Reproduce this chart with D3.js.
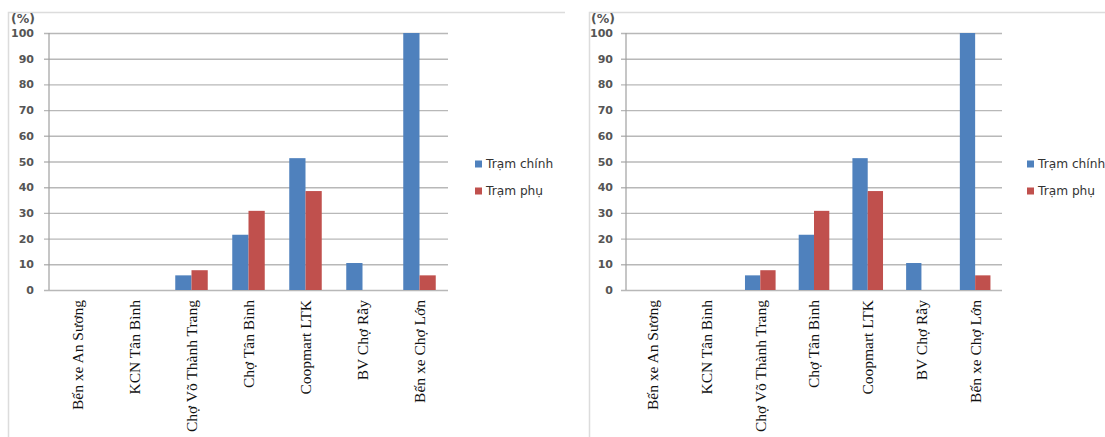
<!DOCTYPE html>
<html>
<head>
<meta charset="utf-8">
<script src="https://cdn.jsdelivr.net/npm/d3@7/dist/d3.min.js"></script>
<style>
  html, body { margin: 0; padding: 0; background: #fff; }
  svg { display: block; }
</style>
</head>
<body>
<svg id="chart" width="1105" height="437"></svg>
<script>
// Share of trips by stop, main station vs. secondary station (%)
const categories = [
  "Bến xe An Sương",
  "KCN Tân Bình",
  "Chợ Võ Thành Trang",
  "Chợ Tân Bình",
  "Coopmart LTK",
  "BV Chợ Rẫy",
  "Bến xe Chợ Lớn"
];
const seriesNames = ["Trạm chính", "Trạm phụ"];
const tramChinh = [0, 0, 5.7, 21.5, 51.3, 10.5, 100];
const tramPhu   = [0, 0, 7.7, 30.8, 38.5, 0, 5.7];
const yTicks = [0, 10, 20, 30, 40, 50, 60, 70, 80, 90, 100];
const unitLabel = "(%)";

const colors = ["#4f81bd", "#c0504d"];
const series = [tramChinh, tramPhu];

const svg = d3.select("#chart");

// Panel layouts: the same chart is drawn twice, side by side
const panels = [
  { frameX: 8,   frameRight: 565,  left: 49,  right: 448,  unitX: 11,  pad: 10, legendX: 475 },
  { frameX: 589, frameRight: 1105, left: 626, right: 1002, unitX: 591, pad: 8,  legendX: 1027 }
];
const plotTop = 33, plotBottom = 290, frameY = 12.5;

panels.forEach(p => {
  const g = svg.append("g");

  // light outer frame (top and left edges)
  g.append("path")
    .attr("d", `M${p.frameX + 0.5},437 V${frameY} H${p.frameRight}`)
    .attr("fill", "none")
    .attr("stroke", "#dcdcdc")
    .attr("stroke-width", 1.5);

  const x0 = d3.scaleBand()
    .domain(categories)
    .range([p.left, p.right])
    .paddingInner(0.43)
    .paddingOuter(0.215);

  const x1 = d3.scaleBand()
    .domain(seriesNames)
    .range([0, x0.bandwidth()]);

  const y = d3.scaleLinear().domain([0, 100]).range([plotBottom, plotTop]);

  // gridlines + y tick labels
  const w = p.right - p.left;
  const yAxis = g.append("g")
    .attr("transform", `translate(${p.left - 5},0)`)
    .call(d3.axisLeft(y).tickValues(yTicks).tickSize(-(w + 5)).tickPadding(p.pad));
  yAxis.select(".domain").remove();
  yAxis.selectAll(".tick line")
    .attr("stroke", "#b8b8b8")
    .attr("stroke-width", 1.4);
  yAxis.selectAll(".tick text")
    .attr("fill", "#555")
    .style("font-family", "'DejaVu Sans', sans-serif")
    .style("font-weight", "bold")
    .style("font-size", "11px");

  // vertical axis line
  g.append("line")
    .attr("x1", p.left).attr("x2", p.left)
    .attr("y1", plotTop).attr("y2", plotBottom)
    .attr("stroke", "#a0a0a0")
    .attr("stroke-width", 1.2);

  // unit label
  g.append("text")
    .attr("x", p.unitX)
    .attr("y", 23)
    .attr("fill", "#555")
    .style("font-family", "'DejaVu Sans', sans-serif")
    .style("font-weight", "bold")
    .style("font-size", "12.5px")
    .text(unitLabel);

  // bars
  series.forEach((vals, si) => {
    g.append("g").selectAll("rect")
      .data(vals)
      .join("rect")
      .attr("x", (d, i) => x0(categories[i]) + x1(seriesNames[si]))
      .attr("width", x1.bandwidth())
      .attr("y", d => y(d))
      .attr("height", d => plotBottom - y(d))
      .attr("fill", colors[si]);
  });

  // category labels, rotated
  g.append("g").selectAll("text")
    .data(categories)
    .join("text")
    .attr("transform", d => `translate(${x0(d) + x0.bandwidth() / 2},${plotBottom + 10}) rotate(-90)`)
    .attr("text-anchor", "end")
    .attr("dy", "0.35em")
    .attr("fill", "#111")
    .style("font-family", "'Liberation Serif', 'Times New Roman', serif")
    .style("font-size", "15.5px")
    .text(d => d);

  // legend
  const legend = g.append("g");
  seriesNames.forEach((name, si) => {
    const cy = 164 + si * 27;
    legend.append("rect")
      .attr("x", p.legendX)
      .attr("y", cy - 3.5)
      .attr("width", 7)
      .attr("height", 7)
      .attr("fill", colors[si]);
    legend.append("text")
      .attr("x", p.legendX + 11)
      .attr("y", cy)
      .attr("dy", "0.35em")
      .attr("fill", "#333")
      .style("font-family", "'DejaVu Sans', sans-serif")
      .style("font-size", "12.2px")
      .text(name);
  });
});
</script>
</body>
</html>
